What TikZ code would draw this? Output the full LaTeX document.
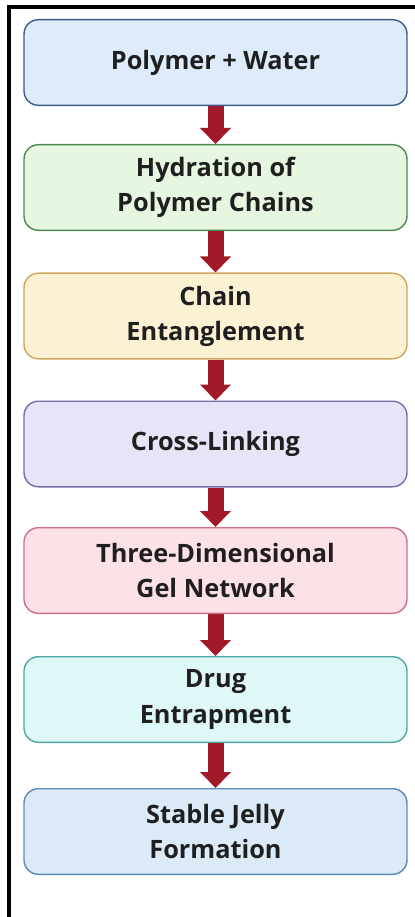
\documentclass[tikz,border=0pt]{standalone}
\usepackage{fontspec}
\setmainfont{Open Sans}
\usetikzlibrary{arrows.meta,positioning}
\definecolor{arr}{HTML}{A11A2A}
\definecolor{f0}{HTML}{DDEBFA}\definecolor{d0}{HTML}{3E5B8C}
\definecolor{f1}{HTML}{E7F6E1}\definecolor{d1}{HTML}{4A8A4E}
\definecolor{f2}{HTML}{FDF1D4}\definecolor{d2}{HTML}{CFA45C}
\definecolor{f3}{HTML}{E8E4F8}\definecolor{d3}{HTML}{7A6CAA}
\definecolor{f4}{HTML}{FCE1E7}\definecolor{d4}{HTML}{CC6F87}
\definecolor{f5}{HTML}{DEF7F7}\definecolor{d5}{HTML}{52A6A6}
\definecolor{f6}{HTML}{DCEAF8}\definecolor{d6}{HTML}{5C89BA}
\tikzset{stage/.style={draw=#1, line width=1pt, rounded corners=0.36cm, minimum width=9.575cm,
    minimum height=2.14cm, align=center, font=\fontsize{18}{25}\selectfont\bfseries, text=black!88},
  flow/.style={arr, line width=0.4cm, -{Triangle[width=0.75cm,length=0.4cm]}}}
\begin{document}
\begin{tikzpicture}
      \useasboundingbox (0,0) rectangle (10.375,-22.925);
      \draw[line width=3pt] (0.225,-22.925) |- (10.375,-0.175);
      \node[stage=d0, fill=f0] (b0) at (5.3875,-1.5625) {Polymer + Water};
      \node[stage=d1, fill=f1] (b1) at (5.3875,-4.6875) {Hydration of\\Polymer Chains};
      \node[stage=d2, fill=f2] (b2) at (5.3875,-7.9) {Chain\\Entanglement};
      \node[stage=d3, fill=f3] (b3) at (5.3875,-11.1) {Cross-Linking};
      \node[stage=d4, fill=f4] (b4) at (5.3875,-14.2625) {Three-Dimensional\\Gel Network};
      \node[stage=d5, fill=f5] (b5) at (5.3875,-17.4875) {Drug\\Entrapment};
      \node[stage=d6, fill=f6] (b6) at (5.3875,-20.7875) {Stable Jelly\\Formation};
      \foreach \i [count=\j] in {0,...,5}
        \draw[flow] (b\i) -- (b\j);
    \end{tikzpicture}
\end{document}
